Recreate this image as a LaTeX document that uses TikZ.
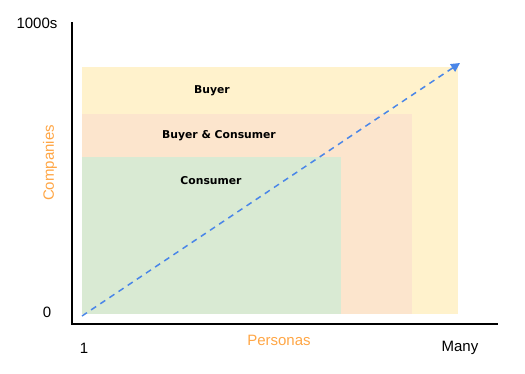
\documentclass[tikz,border=0pt]{standalone}
\usepackage{fontspec}
\setmainfont{Liberation Sans}
\newfontfamily\boxfont{DejaVu Sans}
\usetikzlibrary{arrows.meta}
\definecolor{ylw}{HTML}{FFF2CC}
\definecolor{pch}{HTML}{FCE5CD}
\definecolor{grn}{HTML}{D9EAD3}
\definecolor{org}{HTML}{FFA645}
\definecolor{arrblue}{HTML}{4A86E8}
\begin{document}
\begin{tikzpicture}[x=1pt,y=-1pt,
  axis/.style={line width=2pt,black},
  boxlabel/.style={font=\boxfont\bfseries\fontsize{10.8}{12}\selectfont,inner sep=0pt,anchor=base},
  ticklabel/.style={font=\fontsize{15}{17}\selectfont,inner sep=0pt},
  axlabel/.style={font=\fontsize{15}{17}\selectfont,text=org,inner sep=0pt}]
\useasboundingbox (0,0) rectangle (525,373);
\fill[ylw] (82,67) rectangle (458,314);
\fill[pch] (82,114) rectangle (412,314);
\fill[grn] (82,157) rectangle (341,314);
\node[boxlabel] (buyer) at (212,93) {Buyer};
\node[boxlabel] (both) at (219,138) {Buyer \& Consumer};
\node[boxlabel] (cons) at (211,184) {Consumer};
\coordinate (o) at (72,324);
\coordinate (ytop) at (72,22);
\coordinate (xend) at (498,324);
\draw[axis] (ytop) -- (o) -- (xend);
\coordinate (s) at (82,316);
\coordinate (e) at (460,63);
\draw[arrblue,line width=1.5pt,dash pattern=on 6pt off 5pt,-{Triangle[length=9pt,width=9pt]}] (s) -- (e);
\node[ticklabel] (t1000) at (37,23) {1000s};
\node[ticklabel] (t0) at (47,312) {0};
\node[ticklabel] (t1) at (84,348) {1};
\node[ticklabel] (tmany) at (460,348) {Many};
\node[axlabel] (pers) at (279,340) {Personas};
\node[axlabel,rotate=90] (comp) at (50,163) {Companies};
\end{tikzpicture}
\end{document}
